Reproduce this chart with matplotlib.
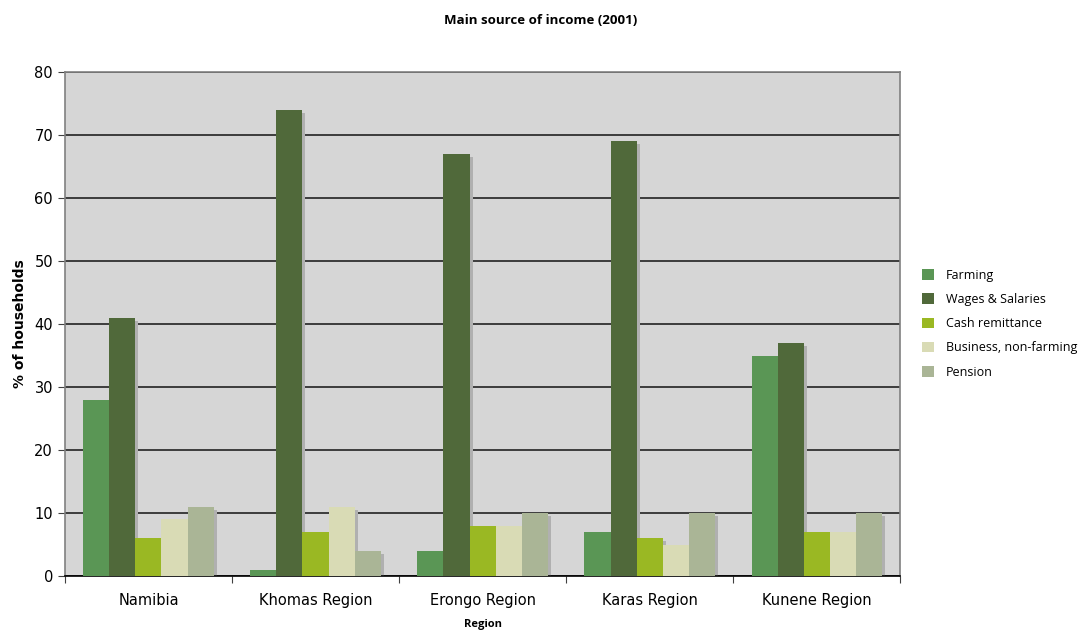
import matplotlib.pyplot as plt
import numpy as np

regions = ["Namibia", "Khomas Region", "Erongo Region", "Karas Region", "Kunene Region"]
series = ["Farming", "Wages & Salaries", "Cash remittance", "Business, non-farming", "Pension"]
farming = [28, 1, 4, 7, 35]
wages = [41, 74, 67, 69, 37]
cash = [6, 7, 8, 6, 7]
business = [9, 11, 8, 5, 7]
pension = [11, 4, 10, 10, 10]
colors = ["#5a9655", "#50693a", "#9ab823", "#d9dbb5", "#aab596"]

values = [farming, wages, cash, business, pension]

fig = plt.figure(figsize=(10.82, 6.36), dpi=100)
ax = fig.add_axes([0.060, 0.0943, 0.772, 0.7925])
ax.set_facecolor("#d6d6d6")

x = np.arange(len(regions))
w = 0.156
dx = 0.018
dy = 0.45

# shadows first, then the bars on top
for i, vals in enumerate(values):
    pos = x + (i - 2) * w
    ax.bar(pos + dx, np.array(vals) - dy, width=w, color="#b0b0b0",
           linewidth=0, zorder=2)
for i, vals in enumerate(values):
    pos = x + (i - 2) * w
    ax.bar(pos, vals, width=w, color=colors[i], linewidth=0, zorder=3, label=series[i])

ax.set_xlim(-0.5, len(regions) - 0.5)
ax.set_ylim(0, 80)
ax.set_yticks(np.arange(0, 81, 10))
ax.yaxis.grid(True, color="#222222", linewidth=1.2, zorder=1)
ax.set_axisbelow(True)

ax.set_xticks(np.arange(-0.5, len(regions), 1))
ax.set_xticklabels([])
ax.set_xticks(x, minor=True)
ax.set_xticklabels(regions, minor=True, fontsize=10.5)
ax.tick_params(axis="x", which="minor", length=0, pad=12)
ax.tick_params(axis="x", which="major", length=5, direction="out", color="#404040")
ax.tick_params(axis="y", length=5, direction="out", labelsize=10.5, color="#404040")

for s in ["top", "right", "left"]:
    ax.spines[s].set_color("#808080")
    ax.spines[s].set_linewidth(1.2)
ax.spines["bottom"].set_color("black")
ax.spines["bottom"].set_linewidth(1.2)

ax.set_ylabel("% of households", fontsize=10, fontweight="bold", labelpad=5)
ax.set_xlabel("Region", fontsize=8, fontweight="bold", family="Open Sans", labelpad=8)
fig.text(0.5, 0.968, "Main source of income (2001)", ha="center", va="center",
         fontsize=9.5, fontweight="bold", family="Open Sans")

fig.legend(loc="center left", bbox_to_anchor=(0.842, 0.491), frameon=False,
           prop={"family": "Open Sans", "size": 9}, handlelength=0.9,
           handleheight=0.9, labelspacing=0.9, handletextpad=1.0)

fig.savefig("out.png", dpi=100)
